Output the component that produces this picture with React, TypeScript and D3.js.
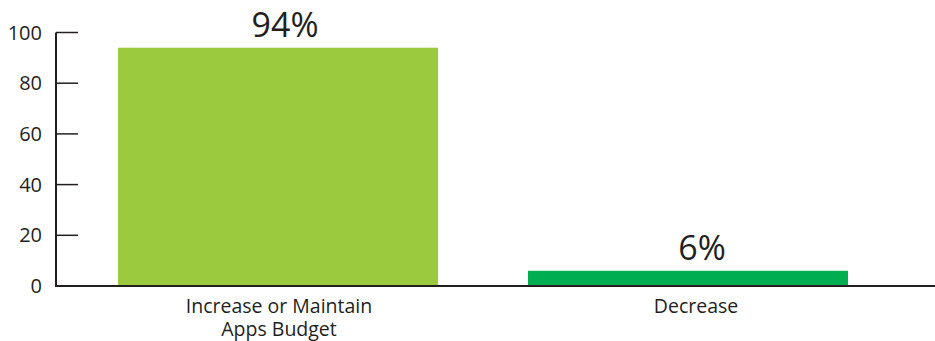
import React from "react";
import * as d3 from "d3";

const categories = ["Increase or Maintain\nApps Budget", "Decrease"];
const values = [94, 6];
const valueLabels = ["94%", "6%"];
const colors = ["#9bca3e", "#00ad50"];
const yTicks = [0, 20, 40, 60, 80, 100];
const labelShift = [4, 11];

export default function App() {
  const W = 935, H = 341;
  const axisX = 56;
  const y = d3.scaleLinear().domain([0, 100]).range([286, 32.5]);
  const x = d3.scaleBand<string>().domain(categories).range([36, 930]).paddingInner(90 / 410).paddingOuter(0.2);
  const font = "'Open Sans', 'DejaVu Sans', sans-serif";
  return (
    <svg width={W} height={H} style={{ position: "absolute", left: 0, top: 0 }} fontFamily={font}>
      {values.map((v, i) => {
        const c = categories[i];
        const bx = x(c)!;
        const cx = bx + x.bandwidth() / 2;
        return (
          <g key={c}>
            <rect x={bx} y={y(v)} width={x.bandwidth()} height={y(0) - y(v)} fill={colors[i]} />
            <text x={cx + labelShift[i] + 3} y={y(v) - 11} textAnchor="middle" fontSize={34} fill="#231f20">
              {valueLabels[i]}
            </text>
            {c.split("\n").map((line, j) => (
              <text key={j} x={cx + labelShift[i] - 3} y={313 + j * 23} textAnchor="middle" fontSize={19.5} fill="#231f20">
                {line}
              </text>
            ))}
          </g>
        );
      })}
      <line x1={axisX} x2={axisX} y1={y(100)} y2={y(0) + 1} stroke="#231f20" strokeWidth={2} />
      <line x1={axisX} x2={W} y1={y(0)} y2={y(0)} stroke="#231f20" strokeWidth={2} />
      {yTicks.map((t) => (
        <g key={t}>
          <line x1={axisX} x2={78} y1={y(t)} y2={y(t)} stroke="#231f20" strokeWidth={1.5} />
          <text x={42} y={y(t) + 7} textAnchor="end" fontSize={20} fill="#231f20">
            {t}
          </text>
        </g>
      ))}
    </svg>
  );
}
